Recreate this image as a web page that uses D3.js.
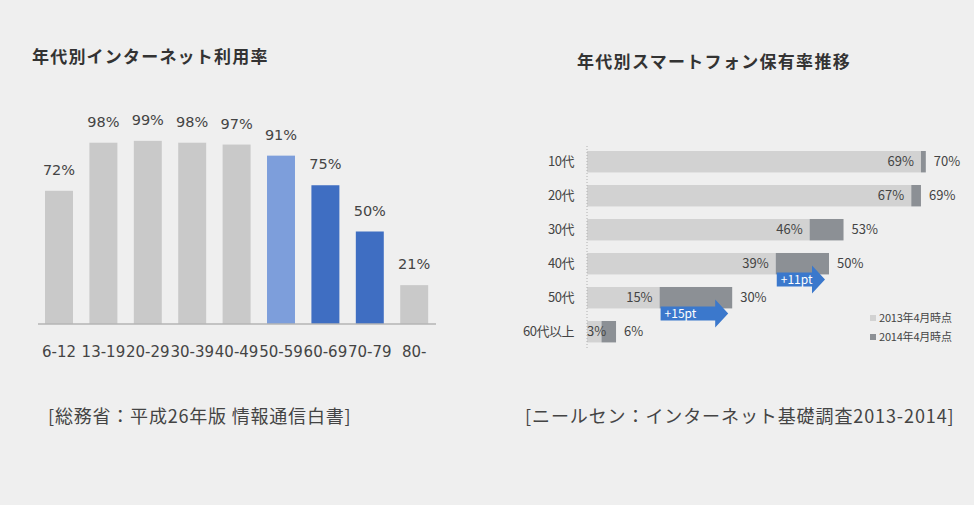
<!DOCTYPE html>
<html>
<head>
<meta charset="utf-8">
<script src="https://cdn.jsdelivr.net/npm/d3@7"></script>
<style>
  body { margin: 0; background: #efefef; }
  svg { display: block; }
  .title { font-family: "Noto Sans CJK JP", sans-serif; font-weight: bold; fill: #333; }
  .left-label { font-family: "DejaVu Sans", sans-serif; font-size: 14.5px; fill: #444; }
  .axis-label { font-family: "DejaVu Sans", sans-serif; font-size: 15px; fill: #444; }
  .right-label { font-family: "Noto Sans CJK JP", sans-serif; font-size: 13px; fill: #444; }
  .source { font-family: "Noto Sans CJK JP", sans-serif; font-size: 18px; fill: #444; }
</style>
</head>
<body>
<svg id="chart"></svg>
<script>
// ---- left chart: internet usage by age
const ageGroups = ['6-12', '13-19', '20-29', '30-39', '40-49', '50-59', '60-69', '70-79', '80-'];
const usageRate = [72, 98, 99, 98, 97, 91, 75, 50, 21];
const usageColors = ['#c9c9c9', '#c9c9c9', '#c9c9c9', '#c9c9c9', '#c9c9c9', '#7d9edb', '#3f6ec2', '#3f6ec2', '#c9c9c9'];

// ---- right chart: smartphone ownership by age
const ageDecades = ['10代', '20代', '30代', '40代', '50代', '60代以上'];
const own2013 = [69, 67, 46, 39, 15, 3];
const own2014 = [70, 69, 53, 50, 30, 6];
const seriesNames = ['2013年4月時点', '2014年4月時点'];
const seriesColors = ['#d2d2d2', '#8c9095'];
const arrowRows = ['40代', '50代'];
const arrowTexts = ['+11pt', '+15pt'];

const svg = d3.select('#chart').attr('width', 974).attr('height', 505);

// background
svg.append('rect').attr('width', 974).attr('height', 505).attr('fill', '#efefef');

// ---------- left chart
const left = svg.append('g');
left.append('text').attr('class', 'title')
    .attr('x', 32).attr('y', 63)
    .style('font-size', '17px').style('letter-spacing', '1.2px')
    .text('年代別インターネット利用率');

const xL = d3.scaleBand()
    .domain(ageGroups)
    .range([36.8, 436.4])
    .paddingInner(0.37)
    .paddingOuter(0.185);
const yL = d3.scaleLinear().domain([0, 100]).range([324, 139]);

const leftData = ageGroups.map((g, i) => ({ g, v: usageRate[i], c: usageColors[i] }));

left.selectAll('.bar')
    .data(leftData)
    .join('rect')
    .attr('class', 'bar')
    .attr('x', d => xL(d.g))
    .attr('y', d => yL(d.v))
    .attr('width', xL.bandwidth())
    .attr('height', d => yL(0) - yL(d.v))
    .attr('fill', d => d.c);

left.selectAll('.val')
    .data(leftData)
    .join('text')
    .attr('class', 'left-label val')
    .attr('x', d => xL(d.g) + xL.bandwidth() / 2)
    .attr('y', d => yL(d.v) - 16)
    .attr('text-anchor', 'middle')
    .text(d => d.v + '%');

const xAxisL = d3.axisBottom(xL).tickSize(0).tickPadding(22);
const xAxisLG = left.append('g')
    .attr('transform', `translate(0,${yL(0)})`)
    .call(xAxisL);
xAxisLG.select('.domain').attr('stroke', '#b5b5b5').attr('stroke-width', 1.5)
    .attr('d', 'M38,0H436');
xAxisLG.selectAll('text').attr('class', 'axis-label').attr('font-size', null).attr('font-family', null);
xAxisLG.attr('font-size', null).attr('font-family', null);

left.append('text').attr('class', 'source')
    .attr('x', 48).attr('y', 423)
    .style('letter-spacing', '0.8px')
    .text('[総務省：平成26年版 情報通信白書]');

// ---------- right chart
const right = svg.append('g');
right.append('text').attr('class', 'title')
    .attr('x', 577).attr('y', 68)
    .style('font-size', '17px').style('letter-spacing', '1.3px')
    .text('年代別スマートフォン保有率推移');

const xR = d3.scaleLinear().domain([0, 100]).range([587, 1071]);
const yR = d3.scaleBand()
    .domain(ageDecades)
    .range([144.7, 348.7])
    .paddingInner(0.37)
    .paddingOuter(0.185);

const rightData = ageDecades.map((a, i) => ({ a, v0: own2013[i], v1: own2014[i] }));

// 2013 segment
right.selectAll('.bar13')
    .data(rightData)
    .join('rect')
    .attr('class', 'bar13')
    .attr('x', xR(0))
    .attr('y', d => yR(d.a))
    .attr('width', d => xR(d.v0) - xR(0))
    .attr('height', yR.bandwidth())
    .attr('fill', seriesColors[0]);

// increase 2013 -> 2014
right.selectAll('.bar14')
    .data(rightData)
    .join('rect')
    .attr('class', 'bar14')
    .attr('x', d => xR(d.v0))
    .attr('y', d => yR(d.a))
    .attr('width', d => xR(d.v1) - xR(d.v0))
    .attr('height', yR.bandwidth())
    .attr('fill', seriesColors[1]);

// dotted axis line
right.append('line')
    .attr('x1', xR(0)).attr('x2', xR(0))
    .attr('y1', 146).attr('y2', 348)
    .attr('stroke', '#b0b0b0').attr('stroke-dasharray', '1,2');

// category labels
right.selectAll('.cat')
    .data(rightData)
    .join('text')
    .attr('class', 'right-label cat')
    .attr('x', 574)
    .attr('y', d => yR(d.a) + yR.bandwidth() / 2)
    .attr('dy', '0.35em')
    .attr('text-anchor', 'end')
    .style('letter-spacing', '-0.5px')
    .text(d => d.a);

// 2013 values inside bars (small bars start at the axis)
right.selectAll('.v13')
    .data(rightData)
    .join('text')
    .attr('class', 'right-label v13')
    .attr('x', d => (xR(d.v0) - xR(0) < 30) ? xR(0) : xR(d.v0) - 7)
    .attr('y', d => yR(d.a) + yR.bandwidth() / 2)
    .attr('dy', '0.35em')
    .attr('text-anchor', d => (xR(d.v0) - xR(0) < 30) ? 'start' : 'end')
    .text(d => d.v0 + '%');

// 2014 values after bars
right.selectAll('.v14')
    .data(rightData)
    .join('text')
    .attr('class', 'right-label v14')
    .attr('x', d => xR(d.v1) + 8)
    .attr('y', d => yR(d.a) + yR.bandwidth() / 2)
    .attr('dy', '0.35em')
    .text(d => d.v1 + '%');

// blue arrows for increase annotations
const arrowData = arrowRows.map((a, i) => {
  const r = rightData.find(d => d.a === a);
  return { a, t: arrowTexts[i], x0: xR(r.v0) + 1, x1: xR(r.v1) - 4, yc: yR(a) + yR.bandwidth() + 5 };
});
const arrows = right.selectAll('.arrow')
    .data(arrowData)
    .join('g')
    .attr('class', 'arrow');
arrows.append('path')
    .attr('fill', '#3b78cc')
    .attr('d', d => {
      const bh = 7, hh = 14, hw = 13;
      const xb = d.x1 - hw;
      return `M${d.x0},${d.yc - bh}H${xb}V${d.yc - hh}L${d.x1},${d.yc}L${xb},${d.yc + hh}V${d.yc + bh}H${d.x0}Z`;
    });
arrows.append('text')
    .attr('x', d => d.x0 + 4)
    .attr('y', d => d.yc)
    .attr('dy', '0.35em')
    .attr('fill', '#fff')
    .style('font-family', '"Noto Sans CJK JP", sans-serif')
    .style('font-size', '12px')
    .text(d => d.t);

// legend
const legend = right.selectAll('.legend')
    .data(seriesNames)
    .join('g')
    .attr('class', 'legend')
    .attr('transform', (d, i) => `translate(870,${318 + i * 19})`);
legend.append('rect')
    .attr('x', 0).attr('y', -3).attr('width', 6).attr('height', 6)
    .attr('fill', (d, i) => seriesColors[i]);
legend.append('text')
    .attr('x', 9).attr('dy', '0.35em')
    .style('font-family', '"Noto Sans CJK JP", sans-serif')
    .style('font-size', '11px')
    .style('letter-spacing', '-0.2px')
    .attr('fill', '#444')
    .text(d => d);

right.append('text').attr('class', 'source')
    .attr('x', 525).attr('y', 423)
    .style('letter-spacing', '0.9px')
    .text('[ニールセン：インターネット基礎調査2013-2014]');
</script>
</body>
</html>
